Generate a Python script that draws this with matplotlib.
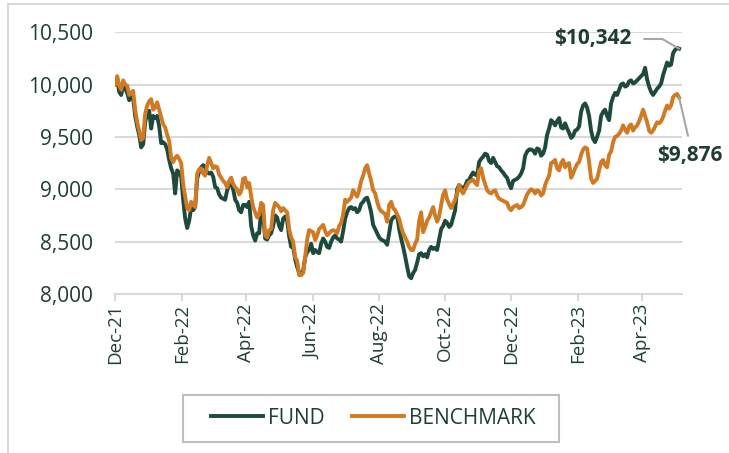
import matplotlib.pyplot as plt
import matplotlib.dates as mdates
import pandas as pd
from matplotlib.ticker import FuncFormatter
from matplotlib.patches import Rectangle

plt.rcParams['font.family'] = ['Open Sans', 'DejaVu Sans']

# growth of $10,000 (roughly every other trading day)
fund = [
    10000, 10060, 9930, 9900, 9990, 9960, 9920, 9850, 9880, 9870,
    9700, 9600, 9520, 9400, 9430, 9640, 9720, 9750, 9580, 9700,
    9680, 9700, 9600, 9440, 9450, 9430, 9380, 9280, 9200, 9150,
    8960, 9180, 9160, 9120, 8900, 8720, 8630, 8700, 8820, 8800,
    8830, 9100, 9170, 9210, 9230, 9210, 9160, 9150, 9160, 9120,
    9020, 9010, 8950, 8920, 8910, 8900, 8990, 9050, 9060, 9000,
    8900, 8870, 8800, 8780, 8850, 8850, 8830, 8880, 8650, 8560,
    8510, 8580, 8580, 8800, 8750, 8530, 8520, 8560, 8580, 8650,
    8750, 8730, 8650, 8610, 8720, 8740, 8700, 8550, 8450, 8450,
    8330, 8260, 8200, 8200, 8220, 8350, 8400, 8420, 8480, 8390,
    8420, 8400, 8390, 8480, 8530, 8500, 8450, 8440, 8500, 8540,
    8560, 8530, 8520, 8500, 8600, 8720, 8780, 8820, 8830, 8810,
    8820, 8780, 8800, 8860, 8880, 8910, 8920, 8860, 8780, 8660,
    8620, 8580, 8540, 8520, 8510, 8500, 8470, 8580, 8700, 8730,
    8740, 8750, 8620, 8530, 8450, 8360, 8260, 8170, 8150, 8200,
    8230, 8300, 8380, 8390, 8360, 8380, 8350, 8420, 8450, 8430,
    8440, 8420, 8520, 8620, 8650, 8700, 8680, 8640, 8660, 8730,
    8800, 9000, 9040, 9020, 9010, 9030, 9080, 9090, 9130, 9160,
    9140, 9130, 9260, 9290, 9310, 9340, 9330, 9270, 9250, 9300,
    9260, 9220, 9210, 9180, 9160, 9130, 9110, 9050, 9010, 9080,
    9090, 9100, 9120, 9150, 9200, 9320, 9360, 9380, 9380, 9370,
    9340, 9390, 9380, 9320, 9340, 9400, 9520, 9580, 9660, 9640,
    9610, 9650, 9680, 9590, 9580, 9630, 9580, 9540, 9490, 9510,
    9560, 9570, 9600, 9740, 9800, 9820, 9780, 9700, 9560, 9480,
    9450, 9500, 9560, 9700, 9740, 9760, 9700, 9660, 9820, 9880,
    9920, 9900, 9950, 10000, 10010, 9980, 9990, 10030, 10040, 10010,
    10020, 10040, 10060, 10080, 10100, 10160, 10050, 9980, 9930, 9900,
    9930, 9960, 9980, 10010, 10090, 10150, 10210, 10180, 10190, 10300,
    10330, 10350, 10342,
]
benchmark = [
    10000, 10080, 9990, 9950, 10040, 10000, 9990, 9900, 9920, 9940,
    9760, 9640, 9560, 9470, 9490, 9720, 9800, 9840, 9860, 9760,
    9780, 9830, 9760, 9690, 9620, 9590, 9520, 9460, 9300, 9260,
    9300, 9320, 9290, 9250, 9050, 8930, 8820, 8800, 8880, 8850,
    8830, 9150, 9190, 9200, 9150, 9130, 9230, 9300, 9250, 9200,
    9220, 9210, 9140, 9110, 9080, 9060, 9020, 9080, 9110, 9050,
    9020, 9000, 8950, 8980, 9100, 9110, 9020, 9060, 8930, 8830,
    8780, 8730, 8760, 8870, 8850, 8560, 8540, 8610, 8620, 8800,
    8870, 8850, 8830, 8790, 8820, 8800, 8780, 8620, 8540, 8500,
    8350, 8320, 8180, 8180, 8200, 8350, 8520, 8610, 8600, 8590,
    8515, 8560, 8620, 8640, 8660, 8600, 8560, 8580, 8600, 8610,
    8600, 8580, 8650, 8680, 8760, 8900, 8880, 8900, 8920, 8990,
    8960, 8930, 8990, 9080, 9130, 9200, 9230, 9150, 9080, 8990,
    8960, 8880, 8820, 8790, 8780, 8760, 8690, 8850, 8880, 8820,
    8800, 8760, 8720, 8640, 8580, 8540, 8500, 8450, 8420, 8420,
    8480, 8520, 8700, 8780, 8590, 8640, 8700, 8730, 8780, 8830,
    8750, 8690, 8740, 8850, 8950, 8990, 8900, 8860, 8820, 8860,
    8900, 8960, 9040, 8990, 8960, 9000, 9040, 9070, 9080, 9090,
    9060, 9040, 9180, 9200, 9110, 9050, 8990, 8970, 8960, 8980,
    8990, 8940, 8910, 8900, 8890, 8880, 8870, 8820, 8800, 8830,
    8840, 8850, 8820, 8830, 8850, 8900, 8950, 8980, 9000, 8990,
    8960, 8990, 8980, 8940, 8960, 9040, 9090, 9130, 9250, 9260,
    9280, 9200, 9180, 9250, 9280, 9210, 9240, 9250, 9110, 9150,
    9200, 9240, 9260, 9330, 9380, 9400, 9390, 9260, 9100, 9060,
    9080, 9100, 9180, 9260, 9280, 9230, 9210, 9330, 9360, 9450,
    9500, 9510, 9530, 9560, 9610, 9570, 9540, 9600, 9620, 9560,
    9590, 9610, 9650, 9700, 9760, 9700, 9640, 9560, 9540, 9560,
    9600, 9640, 9630, 9650, 9690, 9750, 9800, 9770, 9800, 9880,
    9900, 9910, 9876,
]
dates = pd.date_range('2021-12-01', '2023-05-05', periods=len(fund))

green = '#1d4a3c'
orange = '#d07a24'
txt = '#1f3d33'
grid = '#d9d9d9'

fig = plt.figure(figsize=(7.29, 4.53), dpi=100)
ax = fig.add_axes([0.158, 0.351, 0.778, 0.578])

ax.plot(dates, fund, color=green, lw=2.8, label='FUND')
ax.plot(dates, benchmark, color=orange, lw=2.8, label='BENCHMARK')

ax.set_ylim(8000, 10500)
ax.set_yticks([8000, 8500, 9000, 9500, 10000, 10500])
ax.yaxis.set_major_formatter(FuncFormatter(lambda v, p: f'{v:,.0f}'))
ax.set_xlim(pd.Timestamp('2021-12-01'), pd.Timestamp('2023-05-08'))
ax.xaxis.set_major_locator(mdates.MonthLocator(bymonth=[12, 2, 4, 6, 8, 10]))
ax.xaxis.set_major_formatter(mdates.DateFormatter('%b-%y'))

ax.grid(axis='y', color=grid, lw=1.5)
ax.set_axisbelow(True)
for s in ['top', 'right', 'left']:
    ax.spines[s].set_visible(False)
ax.spines['bottom'].set_color(grid)
ax.spines['bottom'].set_linewidth(1.5)
ax.tick_params(axis='y', length=0, pad=16, labelsize=15, labelcolor=txt)
ax.tick_params(axis='x', length=5, width=1.5, color=grid, pad=2,
               labelsize=13.5, labelcolor=txt, labelrotation=90)

ax.annotate('$10,342', xy=(dates[-1], fund[-1]), xytext=(-62, 7),
            textcoords='offset points', ha='center', va='center',
            fontsize=15, fontweight='bold', color=txt,
            arrowprops=dict(arrowstyle='-', color='#a6a6a6', lw=1.5,
                            relpos=(1, 0.5), shrinkA=7, shrinkB=0,
                            connectionstyle='angle,angleA=0,angleB=-30,rad=0'))
ax.annotate('$9,876', xy=(dates[-1], benchmark[-1]), xytext=(8, -42),
            textcoords='offset points', ha='center', va='center',
            fontsize=15, fontweight='bold', color=txt,
            arrowprops=dict(arrowstyle='-', color='#a6a6a6', lw=1.5,
                            relpos=(0.5, 1), shrinkA=5, shrinkB=0))

# legend box drawn separately so the side padding can be wider than the top
fig.add_artist(Rectangle((183 / 729, 1 - 442 / 453), 376 / 729, 47 / 453,
                         transform=fig.transFigure, fill=False,
                         edgecolor='#bfbfbf', lw=1.5))
leg = fig.legend(loc='center', bbox_to_anchor=(373 / 729, 1 - 418 / 453), ncol=2,
                 fontsize=15, frameon=False,
                 handlelength=2.5, handletextpad=0.25, columnspacing=1.3)
for t in leg.get_texts():
    t.set_color(txt)

# outer chart border
fig.add_artist(plt.Line2D([8 / 729, 8 / 729], [0, 1 - 4 / 453], color=grid, lw=1.5))
fig.add_artist(plt.Line2D([8 / 729, 1], [1 - 4 / 453, 1 - 4 / 453], color=grid, lw=1.5))

fig.savefig('out.png', dpi=100)
